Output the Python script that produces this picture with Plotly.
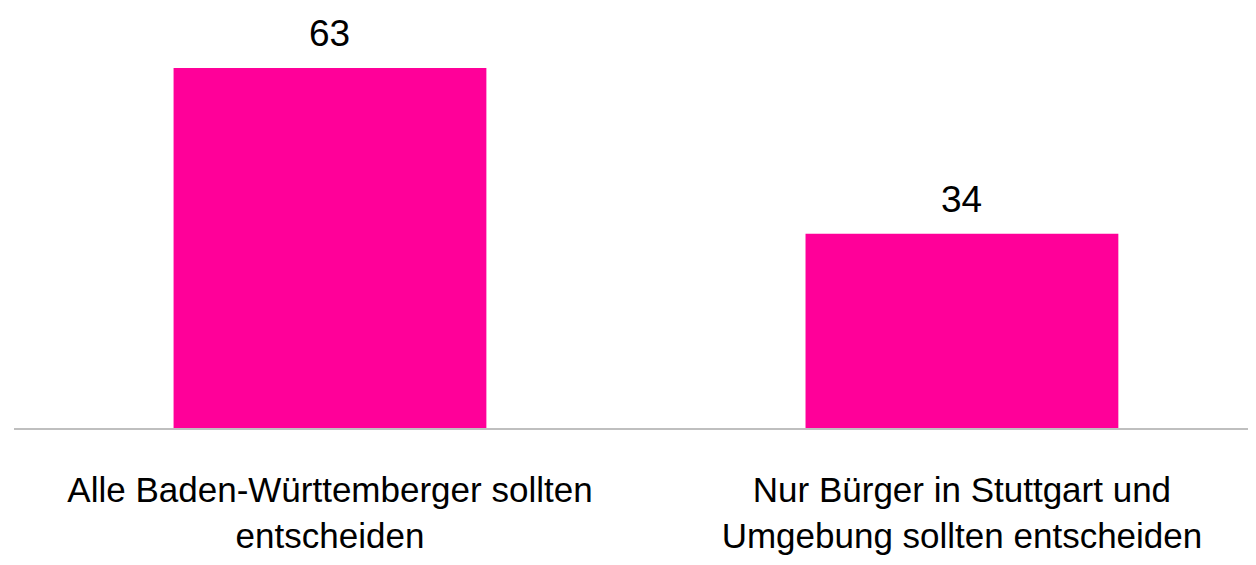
import plotly.graph_objects as go

kategorien = [
    "Alle Baden-Württemberger sollten<br>entscheiden",
    "Nur Bürger in Stuttgart und<br>Umgebung sollten entscheiden",
]
werte = [63, 34]

fig = go.Figure()
fig.add_trace(go.Bar(
    x=kategorien,
    y=werte,
    width=0.495,
    marker=dict(color="#FF0099", line=dict(width=0)),
    hoverinfo="skip",
))

# Wertbeschriftungen über den Balken
for k, w in zip(kategorien, werte):
    fig.add_annotation(
        x=k, y=w, text=str(w), showarrow=False,
        yanchor="bottom", yshift=13, borderpad=0,
        font=dict(size=37, color="#000000", family="Liberation Sans, Arial"),
    )

fig.update_layout(
    width=1256, height=565,
    margin=dict(l=6, r=0, t=20, b=145),
    paper_bgcolor="white", plot_bgcolor="white",
    showlegend=False,
    font=dict(family="Liberation Sans, Arial", color="#000000"),
)
fig.update_xaxes(
    range=[-0.5, 1.478],
    showline=True, linecolor="#BFBFBF", linewidth=2,
    showgrid=False, ticks="", ticklabelstandoff=30,
    tickfont=dict(size=35),
)
fig.update_yaxes(range=[0, 70], visible=False, showgrid=False)

fig.write_html("out.html")
